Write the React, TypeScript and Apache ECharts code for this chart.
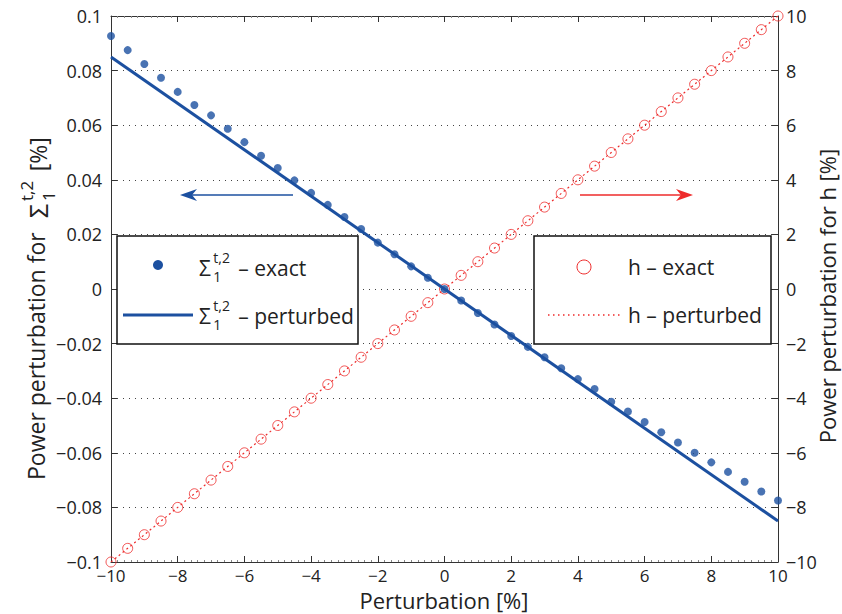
import React, { useEffect, useRef } from "react";
import * as echarts from "echarts";

const perturbation = [-10, -9.5, -9, -8.5, -8, -7.5, -7, -6.5, -6, -5.5, -5, -4.5, -4, -3.5, -3, -2.5, -2, -1.5, -1, -0.5, 0, 0.5, 1, 1.5, 2, 2.5, 3, 3.5, 4, 4.5, 5, 5.5, 6, 6.5, 7, 7.5, 8, 8.5, 9, 9.5, 10];
const sigmaExact = [0.0927, 0.0875, 0.0824, 0.0774, 0.0722, 0.0674, 0.0636, 0.0587, 0.0538, 0.0488, 0.0443, 0.0398, 0.0352, 0.0308, 0.0264, 0.022, 0.017, 0.0127, 0.0083, 0.0041, 0, -0.0042, -0.0088, -0.013, -0.0172, -0.0212, -0.025, -0.029, -0.033, -0.0366, -0.0413, -0.0449, -0.0487, -0.0525, -0.0562, -0.06, -0.0635, -0.067, -0.0706, -0.0742, -0.0775];
const hExact = [-10, -9.5, -9, -8.5, -8, -7.5, -7, -6.5, -6, -5.5, -5, -4.5, -4, -3.5, -3, -2.5, -2, -1.5, -1, -0.5, 0, 0.5, 1, 1.5, 2, 2.5, 3, 3.5, 4, 4.5, 5, 5.5, 6, 6.5, 7, 7.5, 8, 8.5, 9, 9.5, 10];
const perturbedX = [-10, 10];
const sigmaPerturbed = [0.085, -0.085];
const hPerturbed = [-10, 10];

const BLUE = "#1c50a0";
const RED = "#ee2b2b";
const FONT = "Open Sans";
const TXT = "#222";

const fmt = (v: number) => {
  const r = Math.round(v * 100) / 100;
  return String(r).replace("-", "\u2212");
};

function sigmaLabel(x: number, y: number, rest: string, size: number, z: number = 0, restSize: number = size) {
  // Σ with stacked sup "t,2" and sub "1", followed by rest
  const supSize = Math.round(size * 0.68);
  return [
    { type: "text", z, x, y, style: { text: "\u03A3", font: `${size}px "${FONT}"`, fill: TXT, verticalAlign: "middle" } },
    { type: "text", z, x: x + size * 0.68, y: y - size * 0.48, style: { text: "t,2", font: `${supSize}px "${FONT}"`, fill: TXT, verticalAlign: "middle" } },
    { type: "text", z, x: x + size * 0.68, y: y + size * 0.42, style: { text: "1", font: `${supSize}px "${FONT}"`, fill: TXT, verticalAlign: "middle" } },
    { type: "text", z, x: x + size * 1.87, y, style: { text: rest, font: `${restSize}px "${FONT}"`, fill: TXT, verticalAlign: "middle" } },
  ];
}

export default function App() {
  const ref = useRef<HTMLDivElement>(null);
  useEffect(() => {
    if (!ref.current) return;
    const chart = echarts.init(ref.current, undefined, { renderer: "svg" });
    const exactData = perturbation.map((x, i) => [x, sigmaExact[i]]);
    const hData = perturbation.map((x, i) => [x, hExact[i]]);
    const pertData = perturbedX.map((x, i) => [x, sigmaPerturbed[i]]);
    const hPertData = perturbedX.map((x, i) => [x, hPerturbed[i]]);

    const axisLine = { show: true, onZero: false, lineStyle: { color: "#333", width: 1 } };
    const labelStyle = { color: TXT, fontFamily: FONT, fontSize: 18 };
    const tick = { show: true, inside: true, length: 6, lineStyle: { color: "#333" } };
    const minor = { show: true, splitNumber: 10, length: 2, lineStyle: { color: "#888" } };

    chart.setOption({
      animation: false,
      backgroundColor: "#fff",
      grid: { left: 111, right: 64, top: 16, bottom: 52 },
      xAxis: [
        {
          type: "value", min: -10, max: 10, interval: 2, position: "bottom",
          axisLine, axisTick: tick, minorTick: minor,
          axisLabel: { ...labelStyle, fontSize: 17, margin: 6, lineHeight: 14, formatter: fmt },
          splitLine: { show: false },
        },
        {
          type: "value", min: -10, max: 10, interval: 2, position: "top",
          axisLine, axisTick: tick, minorTick: minor,
          axisLabel: { show: false },
          splitLine: { show: false },
        },
      ],
      yAxis: [
        {
          type: "value", min: -0.1, max: 0.1, interval: 0.02, position: "left",
          axisLine, axisTick: tick,
          axisLabel: { ...labelStyle, margin: 9, lineHeight: 12, formatter: fmt },
          splitLine: { show: true, lineStyle: { color: "#444", width: 1, type: [1, 5] } },
        },
        {
          type: "value", min: -10, max: 10, interval: 2, position: "right",
          axisLine, axisTick: tick,
          axisLabel: { ...labelStyle, margin: 8, lineHeight: 12, formatter: fmt },
          splitLine: { show: false },
        },
      ],
      series: [
        {
          name: "h – perturbed", type: "line", yAxisIndex: 1, data: hPertData, showSymbol: false, symbol: "none",
          lineStyle: { color: RED, width: 1.2, type: [2, 3] }, z: 2,
        },
        {
          name: "h – exact", type: "scatter", yAxisIndex: 1, data: hData, symbol: "circle", symbolSize: 10,
          itemStyle: { color: "rgba(0,0,0,0)", borderColor: RED, borderWidth: 1 }, z: 3,
        },
        {
          name: "Σ perturbed", type: "line", data: pertData, showSymbol: false, symbol: "none",
          lineStyle: { color: BLUE, width: 3 }, z: 4,
        },
        {
          name: "Σ exact", type: "scatter", data: exactData, symbol: "circle", symbolSize: 8,
          itemStyle: { color: BLUE }, z: 5,
        },
      ],
      graphic: [
        // x axis title
        { type: "text", x: 444, y: 600, z: 100, style: { text: "Perturbation [%]", font: `22px "${FONT}"`, fill: TXT, align: "center", verticalAlign: "middle" } },
        // left axis title (rotated)
        {
          type: "group", x: 36, y: 480, rotation: Math.PI / 2, z: 100,
          children: [
            { type: "text", x: 0, y: 0, style: { text: "Power perturbation for", font: `23px "${FONT}"`, fill: TXT, verticalAlign: "middle" } },
            ...sigmaLabel(262, 2, "[%]", 25, 0, 23),
          ],
        },
        // right axis title (rotated)
        {
          type: "group", x: 827, y: 296, rotation: Math.PI / 2, z: 100,
          children: [
            { type: "text", x: 0, y: 0, style: { text: "Power perturbation for h [%]", font: `22px "${FONT}"`, fill: TXT, align: "center", verticalAlign: "middle" } },
          ],
        },
        // arrows
        { type: "line", z: 100, shape: { x1: 190, y1: 195, x2: 293, y2: 195 }, style: { stroke: BLUE, lineWidth: 1.5 } },
        { type: "polygon", z: 100, shape: { points: [[180, 195], [197, 189], [192, 195], [197, 201]] }, style: { fill: BLUE } },
        { type: "line", z: 100, shape: { x1: 580, y1: 195, x2: 683, y2: 195 }, style: { stroke: RED, lineWidth: 1.5 } },
        { type: "polygon", z: 100, shape: { points: [[693, 195], [676, 189], [681, 195], [676, 201]] }, style: { fill: RED } },
        // left legend
        { type: "rect", z: 100, shape: { x: 117, y: 236, width: 241, height: 108 }, style: { fill: "#fff", stroke: "#111", lineWidth: 1.5 } },
        { type: "circle", z: 101, shape: { cx: 158, cy: 265, r: 5 }, style: { fill: BLUE } },
        { type: "line", z: 101, shape: { x1: 123, y1: 315, x2: 193, y2: 315 }, style: { stroke: BLUE, lineWidth: 3 } },
        ...sigmaLabel(199, 268, "\u2013 exact", 21, 102),
        ...sigmaLabel(199, 316, "\u2013 perturbed", 21, 102),
        // right legend
        { type: "rect", z: 100, shape: { x: 534, y: 236, width: 237, height: 108 }, style: { fill: "#fff", stroke: "#111", lineWidth: 1.5 } },
        { type: "circle", z: 101, shape: { cx: 584, cy: 267, r: 7 }, style: { fill: "none", stroke: RED, lineWidth: 1 } },
        { type: "line", z: 101, shape: { x1: 548, y1: 315, x2: 620, y2: 315 }, style: { stroke: RED, lineWidth: 1.5, lineDash: [1.5, 3.5] } },
        { type: "text", z: 101, x: 628, y: 267, style: { text: "h \u2013 exact", font: `21px "${FONT}"`, fill: TXT, verticalAlign: "middle" } },
        { type: "text", z: 101, x: 628, y: 315, style: { text: "h \u2013 perturbed", font: `21px "${FONT}"`, fill: TXT, verticalAlign: "middle" } },
      ],
    });
    return () => chart.dispose();
  }, []);
  return <div ref={ref} style={{ width: 842, height: 614, position: "absolute", left: 0, top: 0 }} />;
}
